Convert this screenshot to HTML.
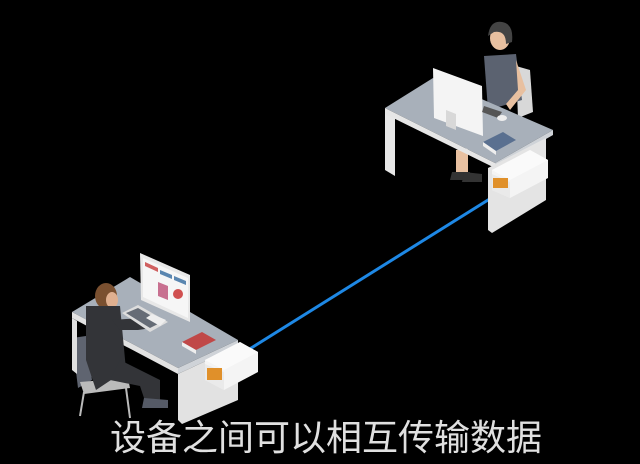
<!DOCTYPE html>
<html><head><meta charset="utf-8"><style>
html,body{margin:0;padding:0;background:#000;width:640px;height:464px;overflow:hidden}
svg{display:block}
</style></head><body>
<svg width="640" height="464" viewBox="0 0 640 464" xmlns="http://www.w3.org/2000/svg">
<rect width="640" height="464" fill="#000"/>
<!-- blue cable -->
<line x1="248" y1="350" x2="496" y2="195" stroke="#1e88e5" stroke-width="3"/>

<!-- RIGHT DESK -->
<!-- chair -->
<polygon points="516,66 530,70 533,112 518,118" fill="#d8d8d8"/>
<!-- woman -->
<ellipse cx="500" cy="38" rx="10" ry="12" fill="#e8c0a0"/>
<path d="M488,36 Q490,20 502,22 Q514,24 512,42 L506,44 Q506,30 494,32 Z" fill="#444"/>
<polygon points="484,56 516,54 522,100 488,110" fill="#5b6270"/>
<polygon points="516,60 526,90 510,110 506,104 518,90" fill="#e8c0a0"/>
<!-- legs -->
<polygon points="456,150 468,148 468,178 456,178" fill="#e8c0a0"/>
<polygon points="452,172 470,172 470,180 450,180" fill="#333"/>
<polygon points="464,172 482,174 482,182 462,182" fill="#333"/>
<!-- desk left panel -->
<polygon points="385,112 395,118 395,176 385,170" fill="#e8e8e8"/>
<!-- desk top -->
<polygon points="385,108 433,78 553,130 495,163" fill="#a8b0ba"/>
<polygon points="385,108 495,163 495,168 385,114" fill="#e6e6e6"/>
<polygon points="495,163 553,130 553,135 495,168" fill="#cfd3d8"/>
<!-- right panel -->
<polygon points="488,168 546,138 546,200 492,233 488,230" fill="#e4e4e4"/>
<!-- monitor -->
<polygon points="433,68 482,86 483,136 434,118" fill="#f4f4f4"/>
<polygon points="446,110 456,114 456,130 446,126" fill="#d8d8d8"/>
<polygon points="484,106 502,112 498,118 482,112" fill="#555"/>
<ellipse cx="502" cy="118" rx="5" ry="3" fill="#eee"/>
<!-- book -->
<polygon points="483,142 503,132 516,140 496,151" fill="#5a7090"/>
<polygon points="483,142 496,151 496,155 483,146" fill="#eee"/>
<!-- router -->
<polygon points="492,170 530,150 548,160 548,178 510,198 492,190" fill="#f4f4f4"/>
<polygon points="492,170 530,150 548,160 510,180" fill="#fafafa"/>
<polygon points="492,174 510,182 510,198 492,190" fill="#eaeaea"/>
<rect x="493" y="178" width="15" height="10" fill="#e0902a"/>

<!-- LEFT DESK -->
<!-- chair -->
<polygon points="72,338 86,336 92,380 78,388" fill="#5f6470"/>
<polygon points="80,382 128,378 130,388 84,394" fill="#bbb"/>
<line x1="84" y1="392" x2="80" y2="416" stroke="#bbb" stroke-width="2"/>
<line x1="126" y1="388" x2="130" y2="418" stroke="#bbb" stroke-width="2"/>
<!-- desk left panel -->
<polygon points="72,318 77,321 77,374 72,370" fill="#e0e0e0"/>
<!-- desk top -->
<polygon points="72,312 130,277 238,340 178,368" fill="#a8b0ba"/>
<polygon points="72,312 178,368 178,374 72,318" fill="#e2e2e2"/>
<polygon points="178,368 238,340 238,346 178,374" fill="#cfd3d8"/>
<!-- right panel -->
<polygon points="178,374 238,346 238,400 182,424 178,420" fill="#e2e2e2"/>
<!-- person -->
<ellipse cx="106" cy="296" rx="11" ry="13" fill="#7a5030"/>
<ellipse cx="112" cy="300" rx="6" ry="8" fill="#e0b090"/>
<polygon points="86,306 120,306 126,370 96,390 86,360" fill="#333438"/>
<polygon points="112,320 142,318 152,328 138,330 120,330" fill="#333438"/>
<polygon points="120,360 160,380 160,404 146,404 140,386 110,380" fill="#333438"/>
<polygon points="144,398 168,400 168,408 142,408" fill="#555a66"/>
<!-- keyboard -->
<polygon points="122,313 138,305 168,322 150,332" fill="#ddd"/>
<polygon points="126,313 138,308 162,322 150,328" fill="#666c76"/>
<!-- monitor -->
<polygon points="140,253 190,275 190,322 141,300" fill="#e8e8e8"/>
<polygon points="143,258 188,278 188,318 143,297" fill="#f6f6f6"/>
<polygon points="145,262 158,268 158,272 145,266" fill="#d06060"/>
<polygon points="160,270 172,275 172,279 160,274" fill="#5a86b0"/>
<polygon points="174,276 186,281 186,285 174,280" fill="#5a86b0"/>
<polygon points="158,282 168,286 168,300 158,296" fill="#c87090"/>
<circle cx="178" cy="294" r="5" fill="#d05050"/>
<polygon points="152,314 166,320 160,326 146,318" fill="#eee"/>
<!-- book -->
<polygon points="182,342 202,332 216,340 196,350" fill="#c04848"/>
<polygon points="182,342 196,350 196,354 182,346" fill="#eee"/>
<!-- router -->
<polygon points="205,360 240,342 258,352 258,372 224,390 205,380" fill="#f4f4f4"/>
<polygon points="205,360 240,342 258,352 224,370" fill="#fafafa"/>
<polygon points="205,364 224,372 224,390 205,380" fill="#eaeaea"/>
<rect x="207" y="368" width="15" height="12" fill="#e0902a"/>

<!-- caption -->
<text x="110" y="450" font-family="'Liberation Sans','Noto Sans CJK SC',sans-serif" font-size="36" fill="#e0e0e0">设备之间可以相互传输数据</text>
</svg>
</body></html>
